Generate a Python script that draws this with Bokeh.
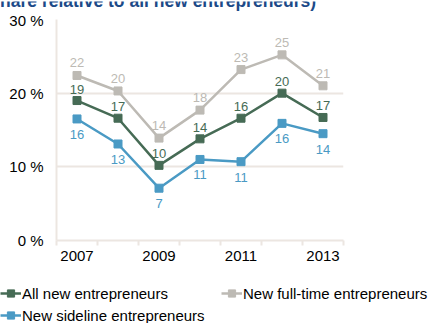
from bokeh.plotting import figure
from bokeh.layouts import column, row
from bokeh.models import (ColumnDataSource, FixedTicker, Legend, LegendItem, Range1d)
from bokeh.embed import file_html
from bokeh.resources import INLINE
from bokeh.core.properties import value

years = [2007, 2008, 2009, 2010, 2011, 2012, 2013]
all_new = [19.0, 16.6, 10.2, 13.8, 16.6, 20.0, 16.7]
all_new_labels = ["19", "17", "10", "14", "16", "20", "17"]
full_time = [22.4, 20.3, 13.9, 17.7, 23.2, 25.2, 21.0]
full_time_labels = ["22", "20", "14", "18", "23", "25", "21"]
sideline = [16.5, 13.1, 7.1, 11.0, 10.7, 15.9, 14.5]
sideline_labels = ["16", "13", "7", "11", "11", "16", "14"]
y_ticks = [0, 10, 20, 30]
y_tick_labels = ["0 %", "10 %", "20 %", "30 %"]
x_label_years = [2007, 2009, 2011, 2013]
title_text = "(share relative to all new entrepreneurs)"
series_names = ["All new entrepreneurs", "New full-time entrepreneurs", "New sideline entrepreneurs"]

C_ALL = "#466b55"
C_FULL = "#bdbab4"
C_SIDE = "#4a9ac4"
GRID = "#ece6e1"
FONT = "Liberation Sans"

# ---- title strip (clipped at the top like the reference) ----
pt = figure(width=434, height=11, output_backend="svg", toolbar_location=None,
            x_range=Range1d(0, 434), y_range=Range1d(0, 11),
            x_axis_type=None, y_axis_type=None, min_border=0)
pt.outline_line_color = None
pt.grid.grid_line_color = None
pt.text(x=[-16], y=[12], text=[title_text], text_font=value(FONT), text_font_size="17.5px",
        text_font_style="bold", text_color="#1c4a88", text_baseline="alphabetic", text_align="left")

# ---- main chart ----
p = figure(frame_width=287, frame_height=221, output_backend="svg", toolbar_location=None,
           x_range=Range1d(2006.5, 2013.5), y_range=Range1d(0, 30),
           min_border_left=56, min_border_right=91, min_border_top=8, min_border_bottom=41)
p.outline_line_color = None
p.background_fill_color = "white"
p.border_fill_color = "white"

p.xaxis.ticker = FixedTicker(ticks=x_label_years, minor_ticks=[y - 0.5 for y in years] + [years[-1] + 0.5])
p.xaxis.major_tick_out = 0
p.xaxis.major_tick_in = 0
p.xaxis.minor_tick_out = 5
p.xaxis.minor_tick_in = 0
p.xaxis.minor_tick_line_color = GRID
p.xaxis.minor_tick_line_width = 2
p.xaxis.axis_line_color = GRID
p.xaxis.axis_line_width = 2
p.xaxis.major_label_text_font = FONT
p.xaxis.major_label_text_font_size = "15px"
p.xaxis.major_label_text_color = "black"
p.xaxis.major_label_standoff = 5

p.yaxis.ticker = FixedTicker(ticks=y_ticks)
p.yaxis.major_label_overrides = {t: l for t, l in zip(y_ticks, y_tick_labels)}
p.yaxis.major_tick_out = 0
p.yaxis.major_tick_in = 0
p.yaxis.minor_tick_line_color = None
p.yaxis.axis_line_color = GRID
p.yaxis.axis_line_width = 2
p.yaxis.major_label_text_font = FONT
p.yaxis.major_label_text_font_size = "15px"
p.yaxis.major_label_text_color = "black"
p.yaxis.major_label_standoff = 13

p.xgrid.grid_line_color = None
p.ygrid.ticker = FixedTicker(ticks=y_ticks[1:])
p.ygrid.grid_line_color = GRID
p.ygrid.grid_line_width = 2

# ---- legend strip ----
pl = figure(width=434, height=42, output_backend="svg", toolbar_location=None,
            x_range=Range1d(0, 1), y_range=Range1d(0, 1),
            x_axis_type=None, y_axis_type=None, min_border=0)
pl.outline_line_color = None
pl.grid.grid_line_color = None

legend_renderers = {}
for vals, labels, color, name, dy in [
    (full_time, full_time_labels, C_FULL, series_names[1], 8),
    (all_new, all_new_labels, C_ALL, series_names[0], 7),
    (sideline, sideline_labels, C_SIDE, series_names[2], -11),
]:
    src = ColumnDataSource(dict(x=years, y=vals, lab=labels))
    p.line("x", "y", source=src, line_color=color, line_width=2.5)
    p.scatter("x", "y", source=src, marker="square", size=8, fill_color=color, line_color=color)
    p.text("x", "y", text="lab", source=src, text_color=color, text_font=value(FONT),
           text_font_size="13px", text_align="center",
           text_baseline="bottom" if dy > 0 else "top", y_offset=-dy)
    # legend-only copies in the legend strip (same data, outside its visible range)
    lr = pl.line("x", "y", source=src, line_color=color, line_width=2.5)
    ls = pl.scatter("x", "y", source=src, marker="square", size=8, fill_color=color, line_color=color)
    legend_renderers[name] = [lr, ls]

common = dict(label_text_font=FONT, label_text_font_size="15px", label_text_color="black",
              glyph_width=21, glyph_height=18, label_standoff=1, spacing=4,
              padding=0, margin=0, border_line_color=None, background_fill_alpha=0,
              label_height=18)
leg1 = Legend(items=[LegendItem(label=series_names[0], renderers=legend_renderers[series_names[0]]),
                     LegendItem(label=series_names[2], renderers=legend_renderers[series_names[2]])],
              location=(0, -1), orientation="vertical", **common)
leg2 = Legend(items=[LegendItem(label=series_names[1], renderers=legend_renderers[series_names[1]])],
              location=(221, 21), orientation="vertical", **common)
pl.add_layout(leg1, "center")
pl.add_layout(leg2, "center")

layout = column(row(pt), row(p), row(pl), spacing=0)
open("out.html", "w").write(file_html(layout, INLINE))
